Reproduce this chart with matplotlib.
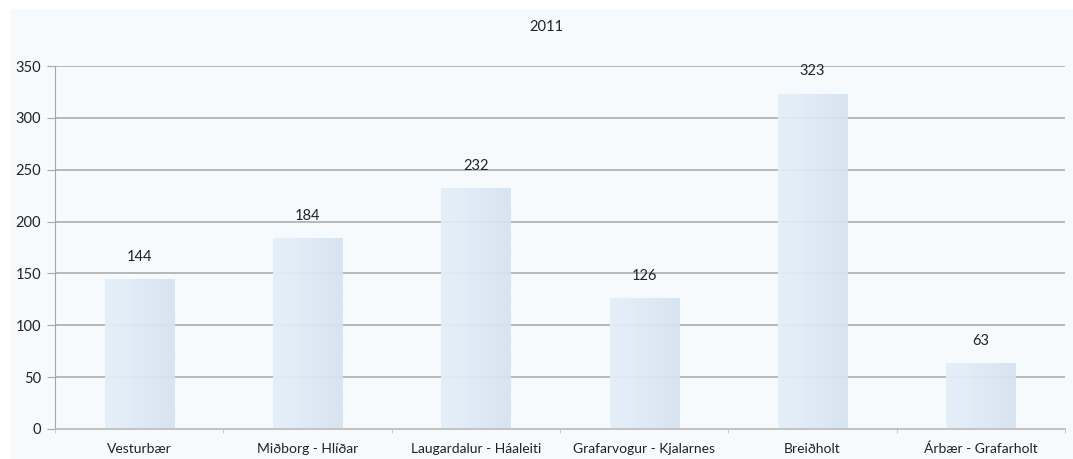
import numpy as np
import matplotlib.pyplot as plt
from matplotlib.patches import Rectangle
from matplotlib.colors import LinearSegmentedColormap

districts = ['Vesturbær', 'Miðborg - Hlíðar', 'Laugardalur - Háaleiti',
             'Grafarvogur - Kjalarnes', 'Breiðholt', 'Árbær - Grafarholt']
values = [144, 184, 232, 126, 323, 63]
yticks = [0, 50, 100, 150, 200, 250, 300, 350]

plt.rcParams['font.family'] = ['Lato', 'DejaVu Sans']

W, H = 1073, 459
fig = plt.figure(figsize=(W / 100, H / 100), dpi=100)
fig.patch.set_facecolor('white')
fig.patches.append(Rectangle((10 / W, 0), 1 - 10 / W, 1 - 9 / H,
                             transform=fig.transFigure, facecolor='#f7fafd',
                             edgecolor='none', zorder=-5))

ax = fig.add_axes([55 / W, 1 - 429 / H, (1065 - 55) / W, (429 - 66) / H])
ax.set_zorder(2)
ax.set_facecolor('none')

cmap = LinearSegmentedColormap.from_list('bar', ['#e4eff9', '#d5e3f1'])
grad = np.linspace(0, 1, 64).reshape(1, -1)
bw = 0.41
x = np.arange(len(values))
for xi, v in zip(x, values):
    ax.imshow(grad, cmap=cmap, aspect='auto', extent=(xi - bw / 2, xi + bw / 2, 0, v),
              zorder=3, interpolation='bilinear', alpha=0.93)
    ax.text(xi, v + 15, str(v), ha='center', va='bottom', fontsize=10.5, color='#222222')

ax.set_xlim(-0.5, len(values) - 0.5)
ax.set_ylim(0, 350)
ax.set_yticks(yticks)
ax.set_yticklabels([str(t) for t in yticks], fontsize=10.5, color='#222222')
ax.yaxis.grid(True, color='#a6a6a6', linewidth=1.1, zorder=1)
ax.set_axisbelow(True)
ax.tick_params(axis='y', length=6, color='#a6a6a6', pad=4)

ax.set_xticks(x)
ax.set_xticklabels(districts, fontsize=10, color='#222222')
ax.set_xticks(np.arange(len(values) + 1) - 0.5, minor=True)
ax.tick_params(axis='x', which='major', length=0, pad=10)
ax.tick_params(axis='x', which='minor', length=3, color='#c0c0c0')

for s in ['top', 'right']:
    ax.spines[s].set_visible(False)
ax.spines['left'].set_color('#a6a6a6')
ax.spines['bottom'].set_color('#c0c0c0')
ax.spines['bottom'].set_linewidth(1.3)
ax.spines['bottom'].set_zorder(4)

fig.text(546 / W, 1 - 27 / H, '2011', ha='center', va='center', fontsize=10.5, color='#222222')

fig.savefig('out.png', dpi=100)
